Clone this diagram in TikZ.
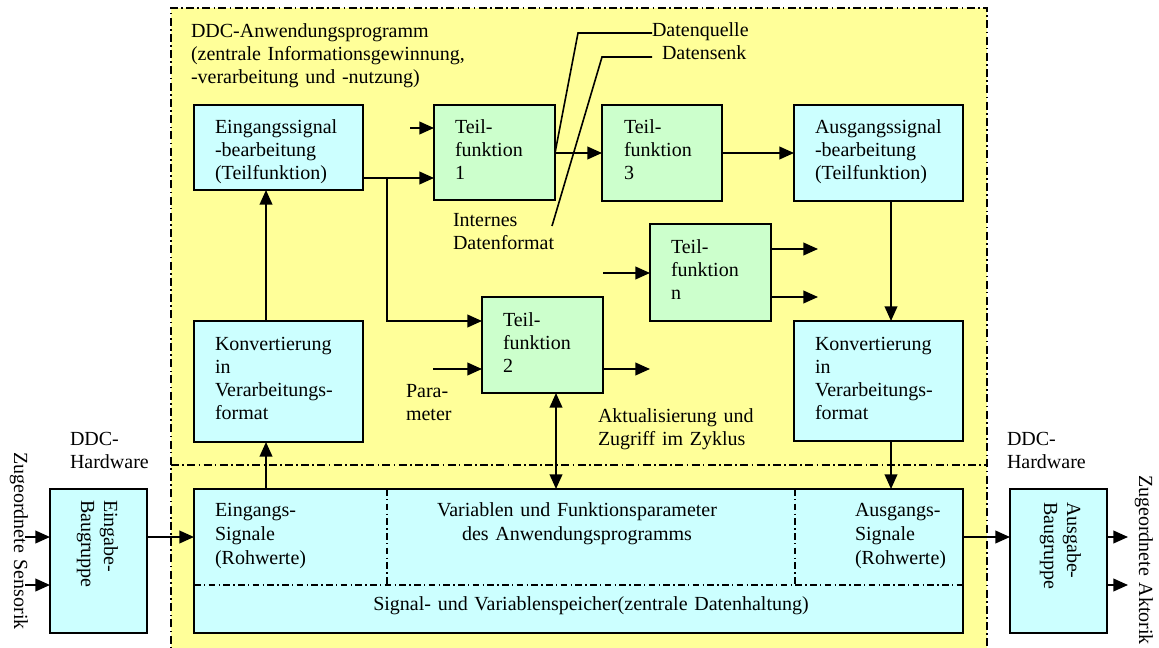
\documentclass[tikz,border=0pt]{standalone}
\usepackage{fontspec}
\setmainfont{Liberation Serif}
\usetikzlibrary{arrows.meta,calc}
\definecolor{appyellow}{RGB}{255,255,153}
\definecolor{boxcyan}{RGB}{204,255,255}
\definecolor{boxgreen}{RGB}{204,255,204}
\newcommand\dfont{\fontsize{15}{17.25}\selectfont}
\newcommand\mfont{\fontsize{15}{18}\selectfont}

\begin{document}
\begin{tikzpicture}[x=0.75pt,y=-0.75pt,
  blk/.style={draw=black, line width=1.4pt, inner sep=0pt, outer sep=0pt, anchor=north west},
  cy/.style={blk, fill=boxcyan},
  gr/.style={blk, fill=boxgreen},
  sz/.style 2 args={minimum width=#1*0.75pt, minimum height=#2*0.75pt},
  lbl/.style={font=\dfont, inner sep=0pt, outer sep=0pt, text width=260pt, align=left, anchor=base west},
  arr/.style={line width=1.4pt, -{Triangle[length=11pt,width=9.5pt]}},
  arrb/.style={line width=1.4pt, {Triangle[length=11pt,width=9.5pt]}-{Triangle[length=11pt,width=9.5pt]}},
  lead/.style={line width=1.2pt},
  dd/.style={line width=1pt, dash pattern=on 6pt off 2.5pt on 1.2pt off 2.5pt},
  ddin/.style={line width=0.9pt, dash pattern=on 5pt off 2.5pt on 1pt off 2.5pt},
]
\useasboundingbox (0,0) rectangle (1159,648);

% application program area
\fill[appyellow] (171,8) rectangle (987,660);
\draw[dd] (171,660) -- (171,8) -- (987,8) -- (987,660);
\draw[dd] (171,465) -- (987,465);

\node[lbl] (title) at (191,38) {DDC-Anwendungsprogramm\\(zentrale Informationsgewinnung,\\-verarbeitung und -nutzung)};

% function blocks
\node[cy, sz={169}{85}]  (eing)  at (194,105) {};
\node[gr, sz={121}{95}]  (t1)    at (434,105) {};
\node[gr, sz={120}{96}]  (t3)    at (602,105) {};
\node[cy, sz={169}{96}]  (aus)   at (794,105) {};
\node[gr, sz={121}{97}]  (tn)    at (650,224) {};
\node[gr, sz={121}{96}]  (t2)    at (482,297) {};
\node[cy, sz={169}{121}] (konvL) at (194,321) {};
\node[cy, sz={169}{120}] (konvR) at (794,321) {};
\node[cy, sz={769}{144}] (mem)   at (194,489) {};
\node[cy, sz={97}{144}]  (einb)  at (50,489) {};
\node[cy, sz={97}{144}]  (ausb)  at (1010,489) {};

\node[lbl] (eingT)  at ($(eing.north west)+(21,29)$)  {Eingangssignal\\-bearbeitung\\(Teilfunktion)};
\node[lbl] (t1T)    at ($(t1.north west)+(21,29)$)    {Teil-\\funktion\\1};
\node[lbl] (t3T)    at ($(t3.north west)+(22,29)$)    {Teil-\\funktion\\3};
\node[lbl] (ausT)   at ($(aus.north west)+(21,29)$)   {Ausgangssignal\\-bearbeitung\\(Teilfunktion)};
\node[lbl] (tnT)    at ($(tn.north west)+(21,30)$)    {Teil-\\funktion\\n};
\node[lbl] (t2T)    at ($(t2.north west)+(21,29)$)    {Teil-\\funktion\\2};
\node[lbl] (konvLT) at ($(konvL.north west)+(21,29)$) {Konvertierung\\in\\Verarbeitungs-\\format};
\node[lbl] (konvRT) at ($(konvR.north west)+(21,29)$) {Konvertierung\\in\\Verarbeitungs-\\format};

% memory block with its sections
\draw[ddin] (mem.west |- 0,585) -- (mem.east |- 0,585);
\draw[ddin] (387,489) -- (387,585);
\draw[ddin] (795,489) -- (795,585);
\node[lbl, font=\mfont] (memA) at (215,516) {Eingangs-\\Signale\\(Rohwerte)};
\node[lbl, font=\mfont, align=center, anchor=base] (memB) at (577,516) {Variablen und Funktionsparameter\\des Anwendungsprogramms};
\node[lbl, font=\mfont] (memC) at (855,516) {Ausgangs-\\Signale\\(Rohwerte)};
\node[lbl, font=\mfont, text width=450pt, align=center, anchor=base] (memD) at (591,610) {Signal- und Variablenspeicher(zentrale Datenhaltung)};

% hardware modules
\node[lbl, rotate=-90] (einbT) at (104,500) {Eingabe-\\Baugruppe};
\node[lbl, rotate=-90] (ausbT) at (1067,502) {Ausgabe-\\Baugruppe};
\node[lbl] (hwL) at (70,445) {DDC-\\Hardware};
\node[lbl] (hwR) at (1007,445) {DDC-\\Hardware};
\node[lbl, rotate=-90] (sens) at (14,452) {Zugeordnete Sensorik};
\node[lbl, rotate=-90] (akt)  at (1139,475) {Zugeordnete Aktorik};

% free labels
\node[lbl] (param) at (406,397) {Para-\\meter};
\node[lbl] (zykl)  at (598,422) {Aktualisierung und\\Zugriff im Zyklus};
\node[lbl] (intf)  at (453,227) {Internes\\Datenformat};
\node[lbl] (dq)    at (652,37)  {Datenquelle};
\node[lbl] (ds)    at (662,60)  {Datensenk};

% free connector ends
\coordinate (s1) at (25,537);
\coordinate (s2) at (25,585);
\coordinate (a1) at (1128,537);
\coordinate (a2) at (1128,585);
\coordinate (xin) at (266,0);
\coordinate (xout) at (891,0);
\coordinate (xt2) at (556,0);
\coordinate (br) at (387,178);
\coordinate (in1) at (410,128);
\coordinate (par) at (433,369);
\coordinate (o2) at (650,369);
\coordinate (inn) at (603,273);
\coordinate (on1) at (818,249);
\coordinate (on2) at (818,297);
\coordinate (dqk) at (578,33);
\coordinate (dqe) at (555,153);
\coordinate (dsa) at (652,57);
\coordinate (dsk) at (602,57);
\coordinate (dse) at (552,226);

% signal flow
\draw[arr] (s1) -- (einb.west |- s1);
\draw[arr] (s2) -- (einb.west |- s2);
\draw[arr] (einb.east |- s1) -- (mem.west |- s1);
\draw[arr] (mem.east |- s1) -- (ausb.west |- s1);
\draw[arr] (ausb.east |- a1) -- (a1);
\draw[arr] (ausb.east |- a2) -- (a2);

\draw[arr] (mem.north -| xin) -- (konvL.south -| xin);
\draw[arr] (konvL.north -| xin) -- (eing.south -| xin);
\draw[arr] (eing.east |- br) -- (t1.west |- br);
\draw[arr] (br) |- (t2.west |- 0,321);
\draw[arr] (in1) -- (t1.west |- in1);
\draw[arr] (par) -- (t2.west |- par);
\draw[arr] (t2.east |- o2) -- (o2);
\draw[arrb] (t2.south -| xt2) -- (mem.north -| xt2);
\draw[arr] (t1.east |- dqe) -- (t3.west |- dqe);
\draw[arr] (t3.east |- dqe) -- (aus.west |- dqe);
\draw[arr] (aus.south -| xout) -- (konvR.north -| xout);
\draw[arr] (konvR.south -| xout) -- (mem.north -| xout);
\draw[arr] (inn) -- (tn.west |- inn);
\draw[arr] (tn.east |- on1) -- (on1);
\draw[arr] (tn.east |- on2) -- (on2);

% leader lines for the annotations
\draw[lead] (dq.base west |- dqk) -- (dqk) -- (dqe);
\draw[lead] (dsa) -- (dsk) -- (dse);
\end{tikzpicture}
\end{document}
